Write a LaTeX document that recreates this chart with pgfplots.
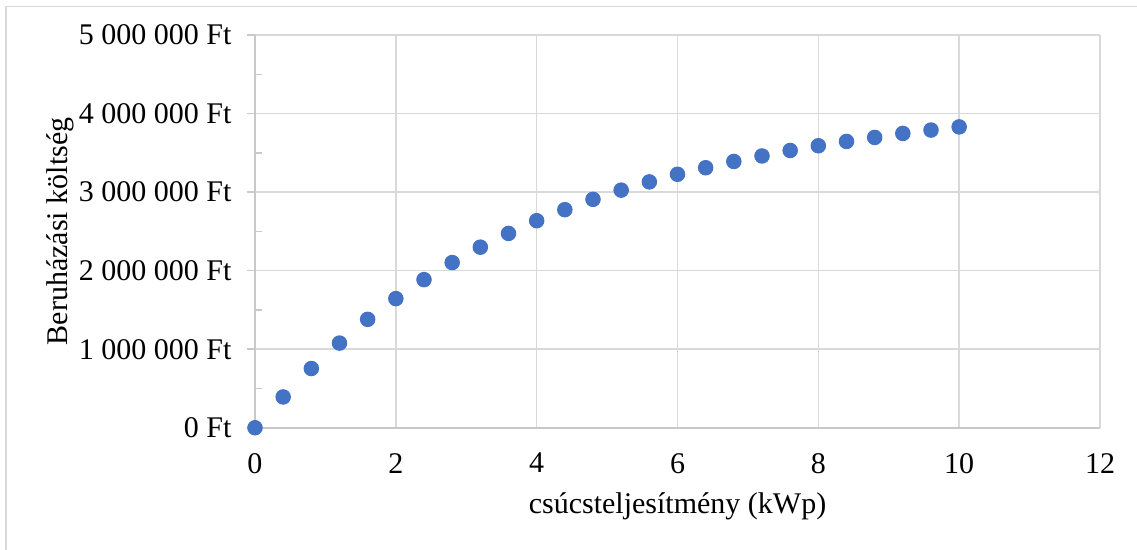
\documentclass[border=0pt]{standalone}
\usepackage{fontspec}
\setmainfont{Liberation Serif}
\usepackage{pgfplots}
\pgfplotsset{compat=1.18}
\definecolor{markblue}{HTML}{4472C4}
\definecolor{gridgray}{HTML}{D9D9D9}
\definecolor{axisgray}{HTML}{C8C8C8}
\definecolor{framegray}{HTML}{D9D9D9}

\pgfplotstableread{
x y
0.0 0
0.4 392000
0.8 754000
1.2 1078000
1.6 1380000
2.0 1644000
2.4 1886000
2.8 2103000
3.2 2299000
3.6 2474000
4.0 2636000
4.4 2776000
4.8 2908000
5.2 3025000
5.6 3130000
6.0 3227000
6.4 3310000
6.8 3390000
7.2 3460000
7.6 3530000
8.0 3590000
8.4 3645000
8.8 3696000
9.2 3747000
9.6 3790000
10.0 3830000
}\costdata

\begin{document}
\begin{tikzpicture}
\useasboundingbox (-102pt,-48.5pt) rectangle (352.8pt,171.1pt);
% chart area border
\draw[framegray, line width=0.6pt] (-99.6pt,-60pt) -- (-99.6pt,168.5pt) -- (370pt,168.5pt);
\begin{axis}[
  at={(0pt,0pt)}, anchor=south west,
  scale only axis, width=338pt, height=157.1pt,
  xmin=0, xmax=12, ymin=0, ymax=5000000,
  axis x line*=bottom, axis y line*=left,
  xtick={0,2,...,12}, xticklabels={0,2,4,6,8,10,12},
  ytick={0,1000000,2000000,3000000,4000000,5000000},
  yticklabels={0 Ft,1 000 000 Ft,2 000 000 Ft,3 000 000 Ft,4 000 000 Ft,5 000 000 Ft},
  scaled y ticks=false,
  minor y tick num=1,
  tick align=outside,
  major tick length=3.2pt,
  minor tick length=2.8pt,
  xtick style={draw=none},
  ytick style={axisgray, line width=0.6pt},
  minor y tick style={xshift=2.8pt},
  grid=major,
  major grid style={gridgray, line width=0.6pt},
  axis line style={axisgray, line width=0.6pt},
  tick label style={font=\fontsize{12}{14}\selectfont, text=black},
  yticklabel style={anchor=east, inner sep=0pt, xshift=-6pt},
  xticklabel style={anchor=north, inner sep=0pt, yshift=-6.8pt},
  label style={font=\fontsize{12}{14}\selectfont, text=black},
  xlabel={csúcsteljesítmény (kWp)},
  xlabel style={at={(axis description cs:0.5,-0.2)}, anchor=center},
  ylabel={Beruházási költség},
  ylabel style={at={(axis description cs:-0.2308,0.5)}, anchor=center},
  clip=false,
]
\addplot[only marks, mark=*, mark size=2.9pt, color=markblue,
  mark options={draw=markblue, fill=markblue}] table[x=x, y=y] {\costdata};
\end{axis}
\end{tikzpicture}
\end{document}
